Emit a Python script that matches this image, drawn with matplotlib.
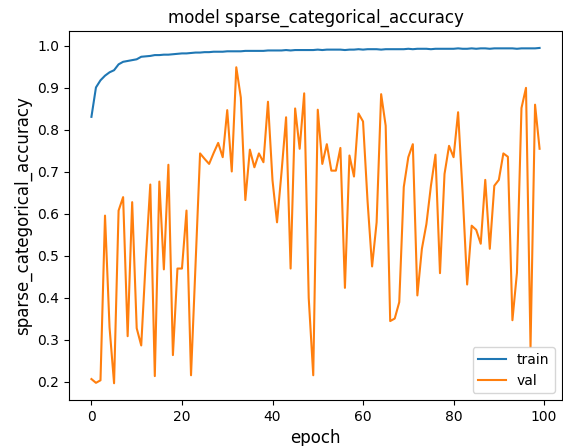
import matplotlib
matplotlib.use('Agg')
from matplotlib import pyplot as plt

# 训练集准确率
train_acc = [0.831, 0.901, 0.918, 0.929, 0.937, 0.942, 0.956, 0.962, 0.964, 0.966,
             0.968, 0.974, 0.975, 0.976, 0.978, 0.978, 0.979, 0.979, 0.980, 0.981,
             0.982, 0.982, 0.983, 0.984, 0.984, 0.985, 0.985, 0.986, 0.986, 0.986,
             0.987, 0.987, 0.987, 0.987, 0.988, 0.988, 0.988, 0.988, 0.988, 0.989,
             0.989, 0.989, 0.989, 0.990, 0.989, 0.990, 0.990, 0.990, 0.990, 0.990,
             0.991, 0.990, 0.991, 0.991, 0.991, 0.991, 0.990, 0.991, 0.991, 0.992,
             0.991, 0.992, 0.992, 0.992, 0.991, 0.992, 0.992, 0.992, 0.992, 0.992,
             0.993, 0.992, 0.993, 0.993, 0.993, 0.992, 0.993, 0.993, 0.993, 0.993,
             0.993, 0.994, 0.993, 0.993, 0.994, 0.993, 0.994, 0.994, 0.993, 0.994,
             0.994, 0.994, 0.994, 0.994, 0.993, 0.994, 0.994, 0.994, 0.994, 0.995]

# 验证集准确率
val_acc = [0.207, 0.198, 0.204, 0.596, 0.330, 0.197, 0.608, 0.640, 0.309, 0.628,
           0.328, 0.287, 0.490, 0.670, 0.214, 0.677, 0.468, 0.717, 0.264, 0.470,
           0.470, 0.608, 0.216, 0.480, 0.744, 0.731, 0.719, 0.745, 0.769, 0.735,
           0.847, 0.701, 0.949, 0.877, 0.633, 0.753, 0.711, 0.744, 0.723, 0.867,
           0.680, 0.580, 0.700, 0.830, 0.470, 0.851, 0.755, 0.887, 0.400, 0.216,
           0.848, 0.719, 0.766, 0.703, 0.703, 0.757, 0.424, 0.739, 0.689, 0.839,
           0.820, 0.630, 0.475, 0.580, 0.885, 0.810, 0.345, 0.351, 0.390, 0.664,
           0.735, 0.766, 0.406, 0.517, 0.576, 0.667, 0.741, 0.459, 0.695, 0.762,
           0.735, 0.842, 0.650, 0.432, 0.572, 0.562, 0.529, 0.681, 0.517, 0.667,
           0.681, 0.744, 0.736, 0.347, 0.460, 0.852, 0.900, 0.283, 0.860, 0.755]

fig = plt.figure(figsize=(5.63, 4.46), dpi=100)
ax = fig.add_axes([0.1226, 0.1031, 0.8756, 0.827])

# 画曲线
ax.plot(train_acc, label='train')
ax.plot(val_acc, label='val')

ax.set_title('model sparse_categorical_accuracy', fontsize=12)
ax.set_ylabel('sparse_categorical_accuracy', fontsize=12)
ax.set_xlabel('epoch', fontsize=12)
ax.legend(loc='lower right')

fig.savefig('out.png', dpi=100)
